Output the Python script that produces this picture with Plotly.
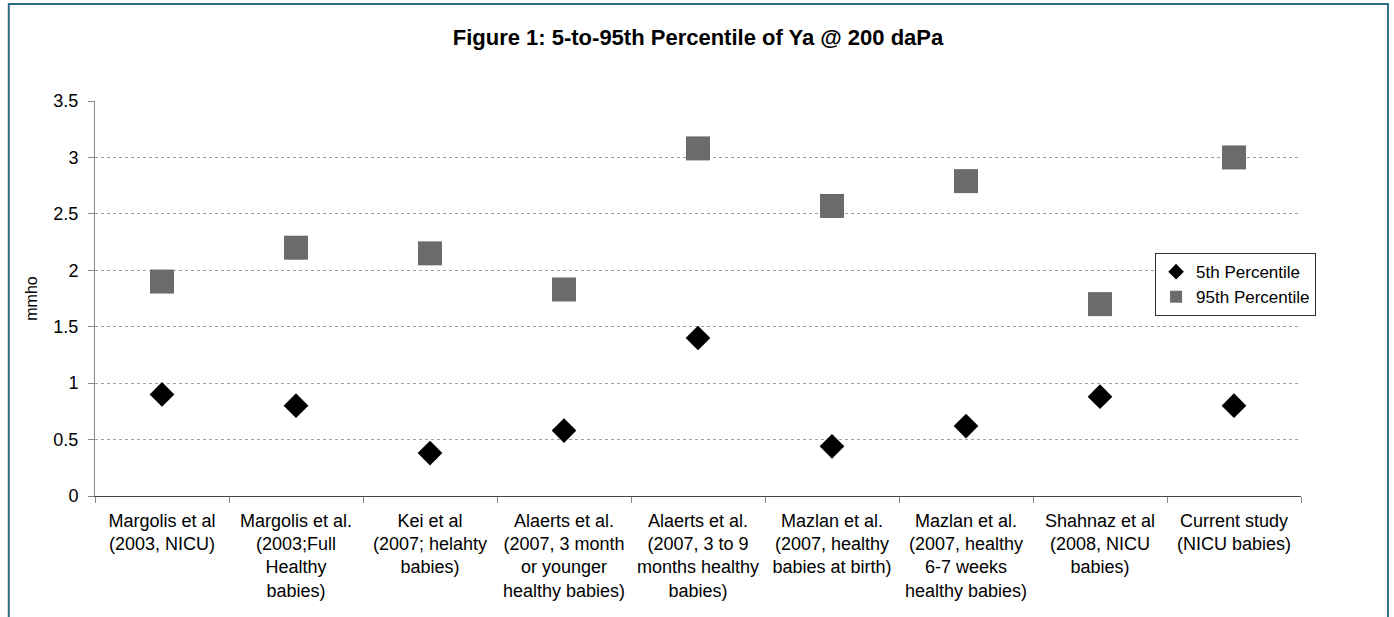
import plotly.graph_objects as go

# Studies compared (x categories)
studies = [
    "Margolis et al<br>(2003, NICU)",
    "Margolis et al.<br>(2003;Full<br>Healthy<br>babies)",
    "Kei et al<br>(2007; helahty<br>babies)",
    "Alaerts et al.<br>(2007, 3 month<br>or younger<br>healthy babies)",
    "Alaerts et al.<br>(2007, 3 to 9<br>months healthy<br>babies)",
    "Mazlan et al.<br>(2007, healthy<br>babies at birth)",
    "Mazlan et al.<br>(2007, healthy<br>6-7 weeks<br>healthy babies)",
    "Shahnaz et al<br>(2008, NICU<br>babies)",
    "Current study<br>(NICU babies)",
]

# Ya at 200 daPa (mmho)
p5 = [0.90, 0.80, 0.38, 0.58, 1.40, 0.44, 0.62, 0.88, 0.80]
p95 = [1.90, 2.20, 2.15, 1.83, 3.08, 2.57, 2.79, 1.70, 3.00]

y_ticks = [0, 0.5, 1, 1.5, 2, 2.5, 3, 3.5]
y_tick_text = ["0", "0.5", "1", "1.5", "2", "2.5", "3", "3.5"]

fig = go.Figure()
fig.add_trace(go.Scatter(
    x=studies, y=p5, mode="markers", name="5th Percentile",
    marker=dict(symbol="diamond", size=19, color="black"),
))
fig.add_trace(go.Scatter(
    x=studies, y=p95, mode="markers", name="95th Percentile",
    marker=dict(symbol="square", size=24, color="#6b6b6b"),
))

font = "Arial, Liberation Sans, sans-serif"

fig.update_layout(
    width=1394, height=617,
    margin=dict(l=95, r=93, t=101, b=121),
    paper_bgcolor="white", plot_bgcolor="white",
    font=dict(family=font, size=18, color="black"),
    title=dict(
        text="<b>Figure 1: 5-to-95th Percentile of Ya @ 200 daPa</b>",
        x=0.5, xref="paper", xanchor="center",
        y=0.94, yref="container", yanchor="middle",
        font=dict(family=font, size=22, color="black"),
    ),
    showlegend=True,
    legend=dict(
        x=0.879, y=0.615, xanchor="left", yanchor="top",
        bgcolor="white", bordercolor="#333333", borderwidth=1,
        font=dict(family=font, size=17, color="black"),
        itemsizing="constant", itemwidth=30, tracegroupgap=0,
    ),
    xaxis=dict(
        type="category", tickson="boundaries",
        showline=True, linecolor="#444444", linewidth=1,
        ticks="outside", ticklen=6, tickcolor="#888888",
        showgrid=False, tickfont=dict(size=18), ticklabelstandoff=8,
        range=[-0.5, len(studies) - 0.5],
    ),
    yaxis=dict(
        range=[0, 3.5], tickvals=y_ticks, ticktext=y_tick_text,
        showline=True, linecolor="#888888", linewidth=1,
        ticks="outside", ticklen=6, tickcolor="#888888",
        showgrid=True, gridcolor="#a0a0a0", griddash="dot", gridwidth=1,
        zeroline=False, tickfont=dict(size=18), ticklabelstandoff=6,
        title=dict(text="mmho", font=dict(size=16), standoff=11),
    ),
    shapes=[dict(
        type="rect", xref="paper", yref="paper",
        x0=-0.0715, x1=1.0721, y0=-0.4, y1=1.2456,
        line=dict(color="#2c6e88", width=2), fillcolor="rgba(0,0,0,0)",
        layer="below",
    )],
)

fig.write_html("out.html")
